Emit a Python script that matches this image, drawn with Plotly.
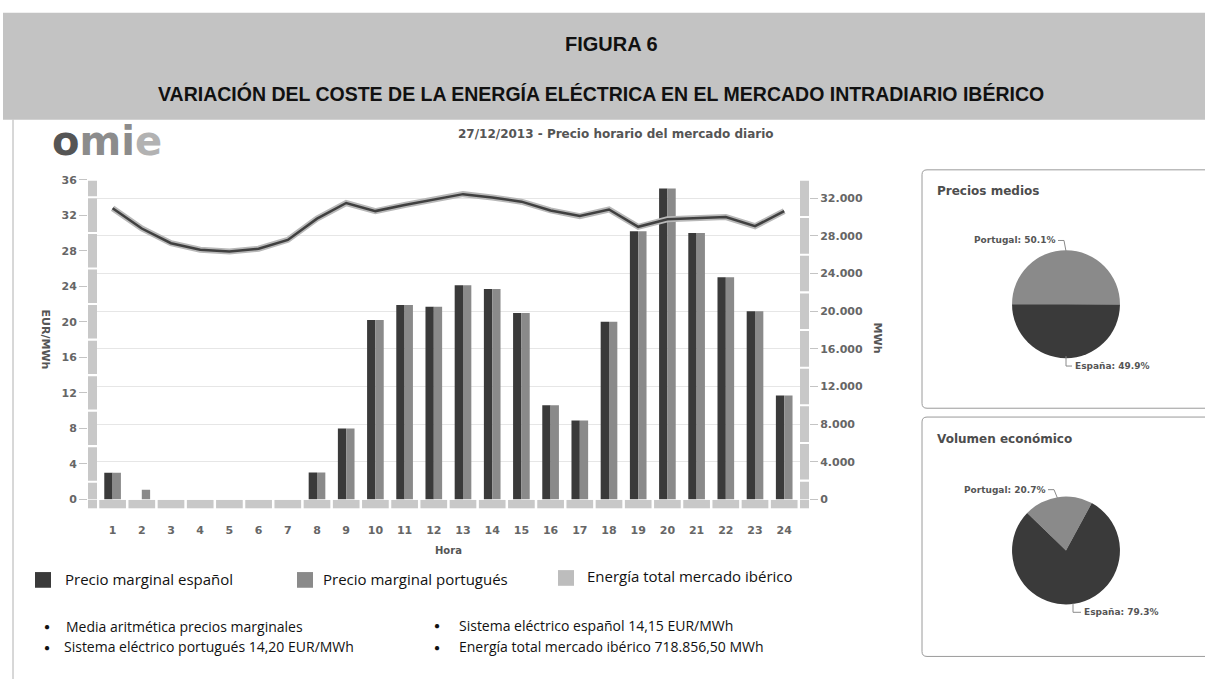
import plotly.graph_objects as go

W, H = 1205, 686

# ---------------- data ----------------
hours = list(range(1, 25))
hour_labels = [str(h) for h in hours]
precio_es = [3.0, 0.0, 0.0, 0.0, 0.0, 0.0, 0.0, 3.05, 8.0, 20.2, 21.9, 21.7,
             24.1, 23.7, 21.0, 10.6, 8.9, 20.0, 30.2, 35.0, 30.0, 25.0, 21.2, 11.7]
precio_pt = [3.0, 1.1, 0.0, 0.0, 0.0, 0.0, 0.0, 3.05, 8.0, 20.2, 21.9, 21.7,
             24.1, 23.7, 21.0, 10.6, 8.9, 20.0, 30.2, 35.0, 30.0, 25.0, 21.2, 11.7]
energia = [30940, 28780, 27220, 26530, 26350, 26630, 27570, 29830, 31490, 30630, 31280, 31840,
           32430, 32080, 31630, 30700, 30100, 30800, 28960, 29760, 29900, 30000, 29030, 30630]
left_ticks = [0, 4, 8, 12, 16, 20, 24, 28, 32, 36]
right_ticks = [0, 4000, 8000, 12000, 16000, 20000, 24000, 28000, 32000]
pie_labels = ["Portugal", "España"]
precios_medios = [50.1, 49.9]
volumen_economico = [20.7, 79.3]

C_ES = "#3a3a3a"
C_PT = "#8a8a8a"
C_EN = "#bdbdbd"
BAND = "#c8c8c8"

def px(x):
    return x / W

def py(y):
    return 1 - y / H

VER = "DejaVu Sans, Verdana, sans-serif"
TICK_FONT = dict(family=VER, size=11, color="#666666", weight="bold")
TXT_FONT = "Open Sans, Noto Sans, sans-serif"

fig = go.Figure()

fig.add_trace(go.Bar(x=hours, y=precio_es, name="Precio marginal español",
                     marker=dict(color=C_ES, line=dict(width=0)), yaxis="y"))
fig.add_trace(go.Bar(x=hours, y=precio_pt, name="Precio marginal portugués",
                     marker=dict(color=C_PT, line=dict(width=0)), yaxis="y"))
fig.add_trace(go.Scatter(x=hours, y=energia, mode="lines", yaxis="y2",
                         line=dict(color="#b8b8b8", width=6), hoverinfo="skip"))
fig.add_trace(go.Scatter(x=hours, y=energia, mode="lines", yaxis="y2",
                         name="Energía total mercado ibérico",
                         line=dict(color="#404040", width=2.5)))

# pies
fig.add_trace(go.Pie(labels=pie_labels, values=precios_medios, sort=False,
                     direction="clockwise", rotation=-90, textinfo="none",
                     marker=dict(colors=[C_PT, C_ES], line=dict(width=0)),
                     domain=dict(x=[px(1011), px(1121)], y=[py(359), py(249)])))
fig.add_trace(go.Pie(labels=pie_labels, values=volumen_economico, sort=False,
                     direction="clockwise", rotation=-46, textinfo="none",
                     marker=dict(colors=[C_PT, C_ES], line=dict(width=0)),
                     domain=dict(x=[px(1011), px(1121)], y=[py(610), py(500)])))

shapes = []
# header band
shapes.append(dict(type="rect", xref="paper", yref="paper", x0=px(3), x1=px(1206),
                   y0=py(116), y1=py(7), fillcolor="#c3c3c3", line=dict(width=0), layer="below"))
# left border of panel
shapes.append(dict(type="line", xref="paper", yref="paper", x0=px(13), x1=px(13),
                   y0=py(116), y1=py(686), line=dict(color="#b0b0b0", width=1)))

# 3D walls: left band (segmented between left ticks), right band
seg_left = [0, 2, 6, 10, 14, 18, 22, 26, 30, 34, 36]
for a, b in zip(seg_left[:-1], seg_left[1:]):
    shapes.append(dict(type="rect", xref="x domain", yref="y", x0=0, x1=9 / 721,
                       y0=a + (0.12 if a > 0 else 0), y1=b - 0.12,
                       fillcolor=BAND, line=dict(width=0)))
seg_right = [0, 2000, 6000, 10000, 14000, 18000, 22000, 26000, 30000, 33970]
for a, b in zip(seg_right[:-1], seg_right[1:]):
    shapes.append(dict(type="rect", xref="x domain", yref="y2", x0=712 / 721, x1=1,
                       y0=a + (110 if a > 0 else 0), y1=b - 110,
                       fillcolor=BAND, line=dict(width=0)))
# floor segments
for h in hours:
    shapes.append(dict(type="rect", xref="x", yref="paper", x0=h - 0.457, x1=h + 0.457,
                       y0=py(512), y1=py(503.5), fillcolor=BAND, line=dict(width=0)))
shapes.append(dict(type="rect", xref="paper", yref="paper", x0=px(88), x1=px(97),
                   y0=py(512), y1=py(503.5), fillcolor=BAND, line=dict(width=0)))
shapes.append(dict(type="rect", xref="paper", yref="paper", x0=px(800), x1=px(809),
                   y0=py(512), y1=py(503.5), fillcolor=BAND, line=dict(width=0)))


def rounded_box(x0, y0, x1, y1, r=5):
    X0, X1 = px(x0), px(x1)
    Y0, Y1 = py(y0), py(y1)
    rx, ry = r / W, r / H
    return (f"M {X0 + rx} {Y0} L {X1 - rx} {Y0} Q {X1} {Y0} {X1} {Y0 - ry} "
            f"L {X1} {Y1 + ry} Q {X1} {Y1} {X1 - rx} {Y1} L {X0 + rx} {Y1} "
            f"Q {X0} {Y1} {X0} {Y1 + ry} L {X0} {Y0 - ry} Q {X0} {Y0} {X0 + rx} {Y0} Z")

shapes.append(dict(type="path", xref="paper", yref="paper", path=rounded_box(922, 167, 1212, 410),
                   line=dict(color="#9a9a9a", width=1), fillcolor="rgba(0,0,0,0)"))
shapes.append(dict(type="path", xref="paper", yref="paper", path=rounded_box(922, 419, 1212, 663),
                   line=dict(color="#9a9a9a", width=1), fillcolor="rgba(0,0,0,0)"))

# pie connectors
def conn(points):
    p = "M " + " L ".join(f"{px(x)} {py(y)}" for x, y in points)
    return dict(type="path", xref="paper", yref="paper", path=p,
                line=dict(color="#8a8a8a", width=1))

shapes.append(conn([(1058, 239), (1064, 239), (1066, 250)]))
shapes.append(conn([(1066, 357), (1066, 367), (1072, 367)]))
shapes.append(conn([(1048, 493), (1054, 493), (1058, 503)]))
shapes.append(conn([(1073, 609), (1073, 618), (1081, 618)]))

# legend squares
for x0, y0, col in [(35, 577, C_ES), (297, 577, C_PT), (558, 575, C_EN)]:
    shapes.append(dict(type="rect", xref="paper", yref="paper", x0=px(x0), x1=px(x0 + 16),
                       y0=py(y0 + 16), y1=py(y0), fillcolor=col, line=dict(width=0)))

annotations = []

def ann(text, x, y, size=12, color="#111", family=TXT_FONT, xanchor="left",
        yanchor="middle", angle=0, bold=False):
    annotations.append(dict(text=text, x=px(x), y=py(y), xref="paper", yref="paper",
                            showarrow=False, xanchor=xanchor, yanchor=yanchor,
                            textangle=angle,
                            font=dict(family=family, size=size, color=color,
                                      weight="bold" if bold else "normal")))

HEAD = "Liberation Sans, Arial, sans-serif"
ann("FIGURA 6", 611, 39, size=20, family=HEAD, xanchor="center", bold=True)
ann("VARIACIÓN DEL COSTE DE LA ENERGÍA ELÉCTRICA EN EL MERCADO INTRADIARIO IBÉRICO",
    601, 89, size=19.5, family=HEAD, xanchor="center", bold=True)

ann("<span style='color:#555555'>o</span><span style='color:#8c8c8c'>mi</span>"
    "<span style='color:#b2b2b2'>e</span>", 50, 138, size=40,
    family="DejaVu Sans, sans-serif", bold=True)
ann("27/12/2013 - Precio horario del mercado diario", 616, 130, size=12,
    color="#555555", family=VER, xanchor="center", bold=True)
ann("EUR/MWh", 45, 340, size=11, color="#555555", family=VER,
    xanchor="center", angle=90, bold=True)
ann("MWh", 877, 338, size=11, color="#555555", family=VER,
    xanchor="center", angle=90, bold=True)
ann("Hora", 448, 555, size=10, color="#555555", family=VER,
    xanchor="center", bold=True)

ann("Precios medios", 935, 189, size=12, color="#4d4d4d", family=VER, bold=True)
ann("Volumen económico", 935, 441, size=12, color="#4d4d4d", family=VER, bold=True)
ann(f"{pie_labels[0]}: {precios_medios[0]}%", 1057, 239, size=9, color="#555555",
    family=VER, xanchor="right", bold=True)
ann(f"{pie_labels[1]}: {precios_medios[1]}%", 1073, 367, size=9, color="#555555",
    family=VER, bold=True)
ann(f"{pie_labels[0]}: {volumen_economico[0]}%", 1047, 493, size=9, color="#555555",
    family=VER, xanchor="right", bold=True)
ann(f"{pie_labels[1]}: {volumen_economico[1]}%", 1082, 618, size=9, color="#555555",
    family=VER, bold=True)

ann("Precio marginal español", 63, 584, size=15)
ann("Precio marginal portugués", 321, 584, size=15)
ann("Energía total mercado ibérico", 585, 581, size=15)

for bx, by in [(47, 632), (47, 653), (437, 631), (437, 653)]:
    ann("●", bx, by, size=10, color="#111", xanchor="center")
ann("Media aritmética precios marginales", 64, 632, size=14)
ann("Sistema eléctrico portugués 14,20 EUR/MWh", 62, 653, size=14)
ann("Sistema eléctrico español 14,15 EUR/MWh", 457, 631, size=14)
ann("Energía total mercado ibérico 718.856,50 MWh", 457, 653, size=14)

fig.update_layout(
    width=W, height=H,
    margin=dict(l=0, r=0, t=0, b=0),
    paper_bgcolor="white", plot_bgcolor="white",
    showlegend=False,
    separators=",.",
    barmode="group", bargap=0.43, bargroupgap=0,
    xaxis=dict(domain=[px(88), px(809)], range=[0.1575, 24.849],
               tickvals=hours, ticktext=hour_labels, ticks="outside", ticklen=20,
               tickcolor="rgba(0,0,0,0)", showgrid=False, zeroline=False, showline=False,
               tickfont=TICK_FONT, fixedrange=True),
    yaxis=dict(domain=[py(503), py(177)], range=[0, 36], tickvals=left_ticks,
               ticks="outside", ticklen=8, tickcolor="#c4c4c4", showgrid=False,
               zeroline=False, showline=False, tickfont=TICK_FONT),
    yaxis2=dict(overlaying="y", side="right", anchor="x", range=[0, 33970],
                tickvals=right_ticks, tickformat=",d", ticks="outside", ticklen=8,
                tickcolor="#c4c4c4", showgrid=True, gridcolor="#e6e6e6", zeroline=False,
                showline=False, tickfont=TICK_FONT),
    shapes=shapes,
    annotations=annotations,
)

fig.write_html(
    "out.html",
    config={"displayModeBar": False},
    post_script="document.body.style.margin='0';document.body.style.padding='0';"
                "document.body.style.overflow='hidden';",
)
